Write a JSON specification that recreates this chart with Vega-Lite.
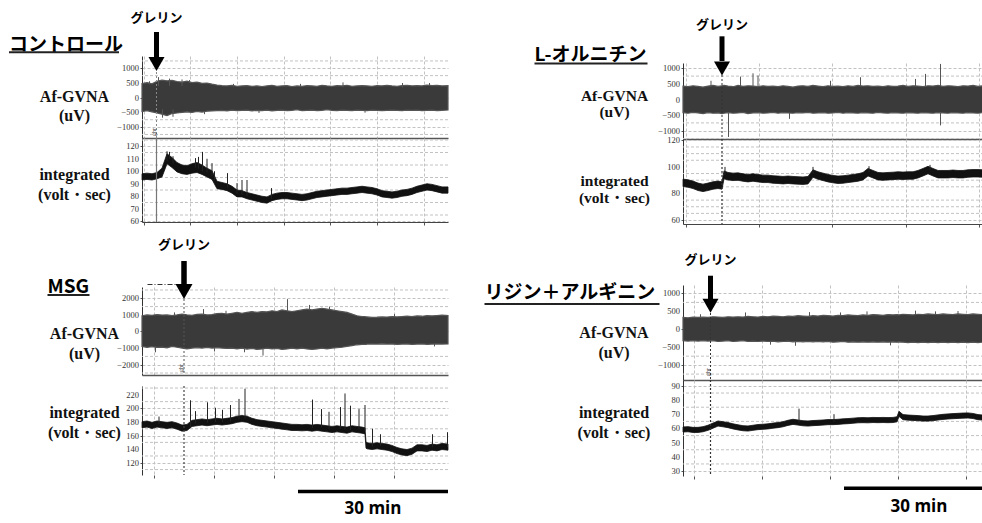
{
  "$schema": "https://vega.github.io/schema/vega-lite/v6.json",
  "background": "white",
  "autosize": {"type": "pad"},
  "padding": {"left": 8, "top": 12, "right": 0, "bottom": 12},
  "config": {
    "view": {"stroke": null},
    "axis": {"labelFont": "Liberation Sans Narrow", "labelFontSize": 8.5, "labelColor": "#333", "tickColor": "#555", "tickSize": 2, "labelPadding": 1, "domainColor": "#333", "gridColor": "#c2c2c2", "gridDash": [3, 2], "gridWidth": 1, "titleFont": "Liberation Serif", "titleFontSize": 16, "titleFontWeight": "bold", "titleColor": "#111"},
    "text": {"font": "Liberation Sans Narrow", "fontSize": 8.5, "color": "#333"}
  },
  "datasets": {
    "ctrl": [
      {"t":0,"raw_hi":480,"raw_lo":-470,"int_hi":98,"int_lo":93},
      {"t":1,"raw_hi":510,"raw_lo":-440,"int_hi":98.5,"int_lo":93.5},
      {"t":2,"raw_hi":470,"raw_lo":-480,"int_hi":98,"int_lo":93},
      {"t":3,"raw_hi":560,"raw_lo":-520,"int_hi":99,"int_lo":94},
      {"t":4,"raw_hi":600,"raw_lo":-560,"int_hi":102.5,"int_lo":95.5},
      {"t":5,"raw_hi":570,"raw_lo":-610,"int_hi":114,"int_lo":106},
      {"t":6,"raw_hi":590,"raw_lo":-540,"int_hi":111,"int_lo":103},
      {"t":7,"raw_hi":550,"raw_lo":-520,"int_hi":107,"int_lo":99.5},
      {"t":8,"raw_hi":530,"raw_lo":-500,"int_hi":105,"int_lo":98},
      {"t":9,"raw_hi":560,"raw_lo":-480,"int_hi":104.5,"int_lo":97.5},
      {"t":10,"raw_hi":510,"raw_lo":-500,"int_hi":106,"int_lo":98.5},
      {"t":11,"raw_hi":530,"raw_lo":-470,"int_hi":107,"int_lo":99},
      {"t":12,"raw_hi":490,"raw_lo":-490,"int_hi":105,"int_lo":97.5},
      {"t":13,"raw_hi":500,"raw_lo":-460,"int_hi":102.5,"int_lo":95.5},
      {"t":14,"raw_hi":460,"raw_lo":-450,"int_hi":100.5,"int_lo":93.5},
      {"t":15,"raw_hi":430,"raw_lo":-440,"int_hi":92,"int_lo":86},
      {"t":16,"raw_hi":410,"raw_lo":-430,"int_hi":91,"int_lo":85.5},
      {"t":17,"raw_hi":400,"raw_lo":-450,"int_hi":90,"int_lo":84.5},
      {"t":18,"raw_hi":420,"raw_lo":-420,"int_hi":88,"int_lo":82.5},
      {"t":19,"raw_hi":390,"raw_lo":-440,"int_hi":85,"int_lo":79.5},
      {"t":20,"raw_hi":400,"raw_lo":-430,"int_hi":84.5,"int_lo":79.5},
      {"t":21,"raw_hi":410,"raw_lo":-420,"int_hi":83,"int_lo":78},
      {"t":22,"raw_hi":390,"raw_lo":-450,"int_hi":82,"int_lo":77},
      {"t":23,"raw_hi":400,"raw_lo":-430,"int_hi":81,"int_lo":76},
      {"t":24,"raw_hi":380,"raw_lo":-440,"int_hi":80,"int_lo":75},
      {"t":25,"raw_hi":400,"raw_lo":-420,"int_hi":79.5,"int_lo":74.5},
      {"t":26,"raw_hi":420,"raw_lo":-450,"int_hi":81.5,"int_lo":76.5},
      {"t":27,"raw_hi":390,"raw_lo":-430,"int_hi":82.5,"int_lo":77.5},
      {"t":28,"raw_hi":400,"raw_lo":-420,"int_hi":83,"int_lo":78},
      {"t":29,"raw_hi":410,"raw_lo":-440,"int_hi":83,"int_lo":78},
      {"t":30,"raw_hi":380,"raw_lo":-430,"int_hi":82.5,"int_lo":77.5},
      {"t":31,"raw_hi":400,"raw_lo":-410,"int_hi":82,"int_lo":77},
      {"t":32,"raw_hi":390,"raw_lo":-440,"int_hi":81.5,"int_lo":76.5},
      {"t":33,"raw_hi":410,"raw_lo":-430,"int_hi":82,"int_lo":77},
      {"t":34,"raw_hi":400,"raw_lo":-420,"int_hi":83,"int_lo":78},
      {"t":35,"raw_hi":390,"raw_lo":-440,"int_hi":84,"int_lo":79},
      {"t":36,"raw_hi":420,"raw_lo":-430,"int_hi":84.5,"int_lo":79.5},
      {"t":37,"raw_hi":400,"raw_lo":-410,"int_hi":85,"int_lo":80},
      {"t":38,"raw_hi":390,"raw_lo":-430,"int_hi":85.5,"int_lo":80.5},
      {"t":39,"raw_hi":410,"raw_lo":-440,"int_hi":86,"int_lo":81},
      {"t":40,"raw_hi":400,"raw_lo":-420,"int_hi":86.5,"int_lo":81.5},
      {"t":41,"raw_hi":420,"raw_lo":-430,"int_hi":86.5,"int_lo":81.5},
      {"t":42,"raw_hi":390,"raw_lo":-440,"int_hi":87,"int_lo":82},
      {"t":43,"raw_hi":400,"raw_lo":-420,"int_hi":87.5,"int_lo":82.5},
      {"t":44,"raw_hi":410,"raw_lo":-430,"int_hi":88,"int_lo":83},
      {"t":45,"raw_hi":400,"raw_lo":-440,"int_hi":87.5,"int_lo":82.5},
      {"t":46,"raw_hi":390,"raw_lo":-420,"int_hi":87,"int_lo":82},
      {"t":47,"raw_hi":410,"raw_lo":-430,"int_hi":86,"int_lo":81},
      {"t":48,"raw_hi":400,"raw_lo":-440,"int_hi":84.5,"int_lo":79.5},
      {"t":49,"raw_hi":420,"raw_lo":-430,"int_hi":84,"int_lo":79},
      {"t":50,"raw_hi":400,"raw_lo":-420,"int_hi":83.5,"int_lo":78.5},
      {"t":51,"raw_hi":390,"raw_lo":-430,"int_hi":84,"int_lo":79},
      {"t":52,"raw_hi":410,"raw_lo":-440,"int_hi":85,"int_lo":80},
      {"t":53,"raw_hi":420,"raw_lo":-420,"int_hi":85.5,"int_lo":80.5},
      {"t":54,"raw_hi":400,"raw_lo":-430,"int_hi":86.5,"int_lo":81.5},
      {"t":55,"raw_hi":410,"raw_lo":-420,"int_hi":88,"int_lo":83},
      {"t":56,"raw_hi":400,"raw_lo":-440,"int_hi":89,"int_lo":84},
      {"t":57,"raw_hi":430,"raw_lo":-430,"int_hi":90,"int_lo":85},
      {"t":58,"raw_hi":410,"raw_lo":-420,"int_hi":89.5,"int_lo":84.5},
      {"t":59,"raw_hi":420,"raw_lo":-440,"int_hi":88.5,"int_lo":83.5},
      {"t":60,"raw_hi":400,"raw_lo":-430,"int_hi":87.5,"int_lo":82.5},
      {"t":61.2,"raw_hi":410,"raw_lo":-420,"int_hi":87.5,"int_lo":82.5}
    ],
    "ctrl_raw_spk": [
      {"t":1.5,"lo":450,"hi":560},{"t":3.3,"lo":400,"hi":700},{"t":4.1,"lo":-680,"hi":-400},{"t":5.5,"lo":400,"hi":650},{"t":6.2,"lo":-650,"hi":-400},{"t":8.0,"lo":400,"hi":620},{"t":9.5,"lo":500,"hi":600},{"t":12.5,"lo":-560,"hi":-460},{"t":18.3,"lo":380,"hi":470},{"t":23.4,"lo":-520,"hi":-420},{"t":31.7,"lo":380,"hi":470},{"t":40.2,"lo":350,"hi":520},{"t":44.6,"lo":-510,"hi":-420},{"t":52.1,"lo":350,"hi":500},{"t":57.5,"lo":400,"hi":500}
    ],
    "ctrl_int_spk": [
      {"t":5.0,"lo":108,"hi":116},{"t":5.5,"lo":110,"hi":115.5},{"t":6.2,"lo":106,"hi":112},{"t":10.7,"lo":103,"hi":110.5},{"t":11.3,"lo":102,"hi":111.5},{"t":12.1,"lo":100,"hi":115.5},{"t":13.0,"lo":99,"hi":110},{"t":14.0,"lo":96,"hi":106.5},{"t":14.5,"lo":93,"hi":100},{"t":17.1,"lo":87,"hi":98.5},{"t":19.0,"lo":82,"hi":90.5},{"t":20.0,"lo":81,"hi":93},{"t":21.0,"lo":80,"hi":93},{"t":25.9,"lo":78,"hi":86.5}
    ],
    "ctrl_info": [{"ghrelin": 2.9, "title": "コントロール", "label": "グレリン", "marker": "ghr"}],
    "g_ctrl_raw": [{"v":-1250},{"v":-750},{"v":-250},{"v":250},{"v":750},{"v":1250}],
    "g_ctrl_int": [{"v":65},{"v":75},{"v":85},{"v":95},{"v":105},{"v":115},{"v":125}],
    "l_ctrl_raw": [{"v":-1000},{"v":-500},{"v":0},{"v":500},{"v":1000}],
    "l_ctrl_int": [{"v":60},{"v":70},{"v":80},{"v":90},{"v":100},{"v":110},{"v":120}],
    "msg": [
      {"t":0,"raw_hi":950,"raw_lo":-900,"int_hi":180.5,"int_lo":171.5},
      {"t":1,"raw_hi":1000,"raw_lo":-950,"int_hi":181.5,"int_lo":172.5},
      {"t":2,"raw_hi":980,"raw_lo":-920,"int_hi":179.5,"int_lo":170.5},
      {"t":3,"raw_hi":1020,"raw_lo":-960,"int_hi":181.5,"int_lo":172.5},
      {"t":4,"raw_hi":990,"raw_lo":-940,"int_hi":180.5,"int_lo":171.5},
      {"t":5,"raw_hi":1000,"raw_lo":-980,"int_hi":179.5,"int_lo":170.5},
      {"t":6,"raw_hi":960,"raw_lo":-900,"int_hi":180.5,"int_lo":171.5},
      {"t":7,"raw_hi":1000,"raw_lo":-950,"int_hi":178.5,"int_lo":169.5},
      {"t":8,"raw_hi":1050,"raw_lo":-1000,"int_hi":175.5,"int_lo":166.5},
      {"t":9,"raw_hi":1000,"raw_lo":-1050,"int_hi":176.5,"int_lo":167.5},
      {"t":10,"raw_hi":980,"raw_lo":-1000,"int_hi":182.5,"int_lo":173.5},
      {"t":11,"raw_hi":1030,"raw_lo":-980,"int_hi":183.5,"int_lo":174.5},
      {"t":12,"raw_hi":1050,"raw_lo":-1000,"int_hi":184.5,"int_lo":175.5},
      {"t":13,"raw_hi":1000,"raw_lo":-960,"int_hi":183.5,"int_lo":174.5},
      {"t":14,"raw_hi":1020,"raw_lo":-1000,"int_hi":184.5,"int_lo":175.5},
      {"t":15,"raw_hi":1080,"raw_lo":-980,"int_hi":185.5,"int_lo":176.5},
      {"t":16,"raw_hi":1100,"raw_lo":-1000,"int_hi":184.5,"int_lo":175.5},
      {"t":17,"raw_hi":1050,"raw_lo":-1020,"int_hi":185.5,"int_lo":176.5},
      {"t":18,"raw_hi":1100,"raw_lo":-1000,"int_hi":186.5,"int_lo":177.5},
      {"t":19,"raw_hi":1150,"raw_lo":-1050,"int_hi":188.5,"int_lo":179.5},
      {"t":20,"raw_hi":1100,"raw_lo":-1000,"int_hi":189.5,"int_lo":180.5},
      {"t":21,"raw_hi":1150,"raw_lo":-1060,"int_hi":188.5,"int_lo":179.5},
      {"t":22,"raw_hi":1200,"raw_lo":-1020,"int_hi":185.5,"int_lo":176.5},
      {"t":23,"raw_hi":1150,"raw_lo":-1080,"int_hi":183.5,"int_lo":174.5},
      {"t":24,"raw_hi":1200,"raw_lo":-1050,"int_hi":182.5,"int_lo":173.5},
      {"t":25,"raw_hi":1180,"raw_lo":-1000,"int_hi":181.5,"int_lo":172.5},
      {"t":26,"raw_hi":1250,"raw_lo":-1050,"int_hi":180.5,"int_lo":171.5},
      {"t":27,"raw_hi":1200,"raw_lo":-1020,"int_hi":179.5,"int_lo":170.5},
      {"t":28,"raw_hi":1300,"raw_lo":-1080,"int_hi":178.5,"int_lo":169.5},
      {"t":29,"raw_hi":1250,"raw_lo":-1050,"int_hi":177.5,"int_lo":168.5},
      {"t":30,"raw_hi":1200,"raw_lo":-1000,"int_hi":176.5,"int_lo":167.5},
      {"t":31,"raw_hi":1250,"raw_lo":-1050,"int_hi":176.5,"int_lo":167.5},
      {"t":32,"raw_hi":1300,"raw_lo":-1000,"int_hi":176,"int_lo":167},
      {"t":33,"raw_hi":1350,"raw_lo":-1050,"int_hi":176.5,"int_lo":167.5},
      {"t":34,"raw_hi":1300,"raw_lo":-1080,"int_hi":175.5,"int_lo":166.5},
      {"t":35,"raw_hi":1350,"raw_lo":-1050,"int_hi":176.5,"int_lo":167.5},
      {"t":36,"raw_hi":1400,"raw_lo":-1000,"int_hi":175.5,"int_lo":166.5},
      {"t":37,"raw_hi":1350,"raw_lo":-1050,"int_hi":174.5,"int_lo":165.5},
      {"t":38,"raw_hi":1300,"raw_lo":-1000,"int_hi":173.5,"int_lo":164.5},
      {"t":39,"raw_hi":1250,"raw_lo":-980,"int_hi":174.5,"int_lo":165.5},
      {"t":40,"raw_hi":1200,"raw_lo":-950,"int_hi":173.5,"int_lo":164.5},
      {"t":41,"raw_hi":1150,"raw_lo":-900,"int_hi":172.5,"int_lo":163.5},
      {"t":42,"raw_hi":1050,"raw_lo":-850,"int_hi":174.5,"int_lo":165.5},
      {"t":43,"raw_hi":950,"raw_lo":-800,"int_hi":173.5,"int_lo":164.5},
      {"t":44,"raw_hi":900,"raw_lo":-780,"int_hi":172.5,"int_lo":163.5},
      {"t":44.6,"raw_hi":890,"raw_lo":-770,"int_hi":171.5,"int_lo":162.5},
      {"t":44.8,"raw_hi":880,"raw_lo":-770,"int_hi":150.5,"int_lo":141.5},
      {"t":45,"raw_hi":880,"raw_lo":-760,"int_hi":149.5,"int_lo":140.5},
      {"t":46,"raw_hi":850,"raw_lo":-750,"int_hi":148.5,"int_lo":139.5},
      {"t":47,"raw_hi":860,"raw_lo":-760,"int_hi":149.5,"int_lo":140.5},
      {"t":48,"raw_hi":880,"raw_lo":-740,"int_hi":148.5,"int_lo":139.5},
      {"t":49,"raw_hi":870,"raw_lo":-760,"int_hi":147.5,"int_lo":138.5},
      {"t":50,"raw_hi":900,"raw_lo":-750,"int_hi":145.5,"int_lo":136.5},
      {"t":51,"raw_hi":880,"raw_lo":-780,"int_hi":142.5,"int_lo":133.5},
      {"t":52,"raw_hi":900,"raw_lo":-760,"int_hi":140.5,"int_lo":131.5},
      {"t":53,"raw_hi":920,"raw_lo":-750,"int_hi":139.5,"int_lo":130.5},
      {"t":54,"raw_hi":900,"raw_lo":-780,"int_hi":141.5,"int_lo":132.5},
      {"t":55,"raw_hi":940,"raw_lo":-760,"int_hi":146.5,"int_lo":137.5},
      {"t":56,"raw_hi":920,"raw_lo":-750,"int_hi":146.5,"int_lo":137.5},
      {"t":57,"raw_hi":950,"raw_lo":-770,"int_hi":145.5,"int_lo":136.5},
      {"t":58,"raw_hi":940,"raw_lo":-760,"int_hi":147.5,"int_lo":138.5},
      {"t":59,"raw_hi":960,"raw_lo":-750,"int_hi":146.5,"int_lo":137.5},
      {"t":60,"raw_hi":980,"raw_lo":-760,"int_hi":148.5,"int_lo":139.5},
      {"t":61.2,"raw_hi":960,"raw_lo":-750,"int_hi":147.5,"int_lo":138.5}
    ],
    "msg_raw_spk": [
      {"t":2.7,"lo":-1250,"hi":-900},{"t":6.5,"lo":950,"hi":1150},{"t":12.3,"lo":1000,"hi":1350},{"t":14.5,"lo":-1200,"hi":-1000},{"t":16.8,"lo":1050,"hi":1250},{"t":20.5,"lo":-1250,"hi":-1000},{"t":24.2,"lo":-1450,"hi":-1000},{"t":29.1,"lo":1200,"hi":1950},{"t":33.5,"lo":1300,"hi":1600},{"t":37.5,"lo":1300,"hi":1500},{"t":50.5,"lo":880,"hi":1050},{"t":58.5,"lo":-900,"hi":-750}
    ],
    "msg_int_spk": [
      {"t":3.4,"lo":177,"hi":188},{"t":9.7,"lo":172,"hi":212},{"t":10.7,"lo":178,"hi":196},{"t":13.1,"lo":179,"hi":209},{"t":14.7,"lo":180,"hi":201},{"t":16.1,"lo":180,"hi":198},{"t":17.7,"lo":181,"hi":205},{"t":19.4,"lo":184,"hi":214},{"t":20.6,"lo":185,"hi":229},{"t":34.1,"lo":171,"hi":213},{"t":35.9,"lo":172,"hi":199},{"t":37.4,"lo":170,"hi":195},{"t":39.7,"lo":170,"hi":202},{"t":40.6,"lo":169,"hi":222},{"t":41.7,"lo":168,"hi":204},{"t":43.4,"lo":169,"hi":199},{"t":44.6,"lo":167,"hi":205},{"t":46.1,"lo":144,"hi":170},{"t":47.7,"lo":145,"hi":162},{"t":58.1,"lo":143,"hi":162},{"t":61.1,"lo":143,"hi":165}
    ],
    "msg_info": [{"ghrelin": 8.4, "title": "MSG", "label": "グレリン", "marker": "ghr"}],
    "g_msg_raw": [{"v":-2500},{"v":-1500},{"v":-500},{"v":500},{"v":1500},{"v":2500}],
    "g_msg_int": [{"v":110},{"v":130},{"v":150},{"v":170},{"v":190},{"v":210},{"v":230}],
    "l_msg_raw": [{"v":-2000},{"v":-1000},{"v":0},{"v":1000},{"v":2000}],
    "l_msg_int": [{"v":120},{"v":140},{"v":160},{"v":180},{"v":200},{"v":220}],
    "orn": [
      {"t":0,"raw_hi":430,"raw_lo":-420,"int_hi":90.8,"int_lo":85.2},
      {"t":1,"raw_hi":410,"raw_lo":-440,"int_hi":90.3,"int_lo":84.7},
      {"t":2,"raw_hi":440,"raw_lo":-410,"int_hi":89.3,"int_lo":83.7},
      {"t":3,"raw_hi":420,"raw_lo":-430,"int_hi":87.8,"int_lo":82.2},
      {"t":4,"raw_hi":400,"raw_lo":-450,"int_hi":87,"int_lo":81.4},
      {"t":5,"raw_hi":430,"raw_lo":-420,"int_hi":87.8,"int_lo":82.2},
      {"t":6,"raw_hi":450,"raw_lo":-440,"int_hi":88.8,"int_lo":83.2},
      {"t":7,"raw_hi":420,"raw_lo":-430,"int_hi":89.3,"int_lo":83.7},
      {"t":7.8,"raw_hi":440,"raw_lo":-450,"int_hi":88.8,"int_lo":83.2},
      {"t":8.2,"raw_hi":450,"raw_lo":-440,"int_hi":97,"int_lo":91},
      {"t":9,"raw_hi":430,"raw_lo":-420,"int_hi":95.8,"int_lo":90.2},
      {"t":10,"raw_hi":410,"raw_lo":-440,"int_hi":95.3,"int_lo":89.7},
      {"t":11,"raw_hi":450,"raw_lo":-430,"int_hi":95.5,"int_lo":89.9},
      {"t":12,"raw_hi":420,"raw_lo":-410,"int_hi":94.8,"int_lo":89.2},
      {"t":13,"raw_hi":440,"raw_lo":-450,"int_hi":94.3,"int_lo":88.7},
      {"t":14,"raw_hi":430,"raw_lo":-430,"int_hi":94.8,"int_lo":89.2},
      {"t":15,"raw_hi":410,"raw_lo":-420,"int_hi":94.3,"int_lo":88.7},
      {"t":16,"raw_hi":440,"raw_lo":-440,"int_hi":93.8,"int_lo":88.2},
      {"t":17,"raw_hi":420,"raw_lo":-430,"int_hi":93.8,"int_lo":88.2},
      {"t":18,"raw_hi":430,"raw_lo":-410,"int_hi":93.3,"int_lo":87.7},
      {"t":19,"raw_hi":410,"raw_lo":-440,"int_hi":93.1,"int_lo":87.5},
      {"t":20,"raw_hi":440,"raw_lo":-420,"int_hi":92.8,"int_lo":87.2},
      {"t":21,"raw_hi":420,"raw_lo":-430,"int_hi":93.1,"int_lo":87.5},
      {"t":22,"raw_hi":400,"raw_lo":-440,"int_hi":92.8,"int_lo":87.2},
      {"t":23,"raw_hi":430,"raw_lo":-420,"int_hi":92.6,"int_lo":87},
      {"t":24,"raw_hi":440,"raw_lo":-430,"int_hi":92.4,"int_lo":86.8},
      {"t":25,"raw_hi":420,"raw_lo":-410,"int_hi":92.8,"int_lo":87.2},
      {"t":26,"raw_hi":450,"raw_lo":-440,"int_hi":97.8,"int_lo":92.2},
      {"t":27,"raw_hi":430,"raw_lo":-430,"int_hi":96.3,"int_lo":90.7},
      {"t":28,"raw_hi":410,"raw_lo":-420,"int_hi":95.3,"int_lo":89.7},
      {"t":29,"raw_hi":440,"raw_lo":-440,"int_hi":94.3,"int_lo":88.7},
      {"t":30,"raw_hi":420,"raw_lo":-430,"int_hi":93.6,"int_lo":88},
      {"t":31,"raw_hi":430,"raw_lo":-410,"int_hi":93.1,"int_lo":87.5},
      {"t":32,"raw_hi":410,"raw_lo":-440,"int_hi":93.3,"int_lo":87.7},
      {"t":33,"raw_hi":440,"raw_lo":-420,"int_hi":93.8,"int_lo":88.2},
      {"t":34,"raw_hi":420,"raw_lo":-430,"int_hi":94.3,"int_lo":88.7},
      {"t":35,"raw_hi":450,"raw_lo":-440,"int_hi":94.8,"int_lo":89.2},
      {"t":36,"raw_hi":430,"raw_lo":-420,"int_hi":95.8,"int_lo":90.2},
      {"t":37,"raw_hi":440,"raw_lo":-430,"int_hi":98.8,"int_lo":93.2},
      {"t":38,"raw_hi":420,"raw_lo":-440,"int_hi":97.3,"int_lo":91.7},
      {"t":39,"raw_hi":430,"raw_lo":-410,"int_hi":95.8,"int_lo":90.2},
      {"t":40,"raw_hi":410,"raw_lo":-430,"int_hi":95.5,"int_lo":89.9},
      {"t":41,"raw_hi":440,"raw_lo":-440,"int_hi":95.8,"int_lo":90.2},
      {"t":42,"raw_hi":420,"raw_lo":-420,"int_hi":96,"int_lo":90.4},
      {"t":43,"raw_hi":430,"raw_lo":-430,"int_hi":96.3,"int_lo":90.7},
      {"t":44,"raw_hi":450,"raw_lo":-440,"int_hi":96.1,"int_lo":90.5},
      {"t":45,"raw_hi":420,"raw_lo":-420,"int_hi":96.3,"int_lo":90.7},
      {"t":46,"raw_hi":440,"raw_lo":-430,"int_hi":96.3,"int_lo":90.7},
      {"t":47,"raw_hi":430,"raw_lo":-440,"int_hi":97.3,"int_lo":91.7},
      {"t":48,"raw_hi":410,"raw_lo":-420,"int_hi":98.8,"int_lo":93.2},
      {"t":49,"raw_hi":440,"raw_lo":-430,"int_hi":100.4,"int_lo":94.8},
      {"t":50,"raw_hi":430,"raw_lo":-440,"int_hi":98.8,"int_lo":93.2},
      {"t":51,"raw_hi":450,"raw_lo":-420,"int_hi":97.3,"int_lo":91.7},
      {"t":52,"raw_hi":420,"raw_lo":-430,"int_hi":97.3,"int_lo":91.7},
      {"t":53,"raw_hi":440,"raw_lo":-440,"int_hi":97.3,"int_lo":91.7},
      {"t":54,"raw_hi":430,"raw_lo":-420,"int_hi":97.6,"int_lo":92},
      {"t":55,"raw_hi":410,"raw_lo":-430,"int_hi":97.3,"int_lo":91.7},
      {"t":56,"raw_hi":440,"raw_lo":-440,"int_hi":97.3,"int_lo":91.7},
      {"t":57,"raw_hi":430,"raw_lo":-420,"int_hi":97.8,"int_lo":92.2},
      {"t":58,"raw_hi":450,"raw_lo":-430,"int_hi":98,"int_lo":92.4},
      {"t":59,"raw_hi":420,"raw_lo":-440,"int_hi":98,"int_lo":92.4},
      {"t":60,"raw_hi":440,"raw_lo":-420,"int_hi":97.8,"int_lo":92.2},
      {"t":61.2,"raw_hi":430,"raw_lo":-430,"int_hi":97.8,"int_lo":92.2}
    ],
    "orn_raw_spk": [
      {"t":5.6,"lo":400,"hi":600},{"t":9.1,"lo":-1200,"hi":-420},{"t":11.5,"lo":420,"hi":735},{"t":14.0,"lo":420,"hi":840},{"t":15.0,"lo":420,"hi":770},{"t":21.3,"lo":-620,"hi":-420},{"t":29.5,"lo":420,"hi":600},{"t":35.5,"lo":420,"hi":714},{"t":46.5,"lo":420,"hi":660},{"t":48.5,"lo":420,"hi":820},{"t":51.5,"lo":430,"hi":1140},{"t":51.5,"lo":-830,"hi":-420}
    ],
    "orn_int_spk": [
      {"t":8.4,"lo":94,"hi":100},{"t":26.0,"lo":95,"hi":100},{"t":37.2,"lo":96,"hi":100.5},{"t":49.4,"lo":97.6,"hi":101.5}
    ],
    "orn_info": [{"ghrelin": 7.8, "title": "L-オルニチン", "label": "グレリン"}],
    "g_orn_raw": [{"v":-1250},{"v":-750},{"v":-250},{"v":250},{"v":750}],
    "g_orn_int": [{"v":65},{"v":70},{"v":75},{"v":85},{"v":90},{"v":95},{"v":105},{"v":110},{"v":115}],
    "l_orn_raw": [{"v":-1000},{"v":-500},{"v":0},{"v":500},{"v":1000}],
    "l_orn_int": [{"v":60},{"v":80},{"v":100},{"v":120}],
    "lys": [
      {"t":0,"raw_hi":330,"raw_lo":-320,"int_hi":61.1,"int_lo":57.5},
      {"t":1,"raw_hi":320,"raw_lo":-330,"int_hi":61.3,"int_lo":57.7},
      {"t":2,"raw_hi":340,"raw_lo":-320,"int_hi":60.8,"int_lo":57.2},
      {"t":3,"raw_hi":330,"raw_lo":-330,"int_hi":60.8,"int_lo":57.2},
      {"t":4,"raw_hi":340,"raw_lo":-320,"int_hi":61.3,"int_lo":57.7},
      {"t":5,"raw_hi":330,"raw_lo":-330,"int_hi":62.3,"int_lo":58.7},
      {"t":6,"raw_hi":350,"raw_lo":-320,"int_hi":63.8,"int_lo":60.2},
      {"t":7,"raw_hi":340,"raw_lo":-340,"int_hi":65.3,"int_lo":61.7},
      {"t":8,"raw_hi":330,"raw_lo":-330,"int_hi":64.8,"int_lo":61.2},
      {"t":9,"raw_hi":350,"raw_lo":-320,"int_hi":64.2,"int_lo":60.6},
      {"t":10,"raw_hi":340,"raw_lo":-340,"int_hi":63.3,"int_lo":59.7},
      {"t":11,"raw_hi":350,"raw_lo":-330,"int_hi":62.6,"int_lo":59},
      {"t":12,"raw_hi":340,"raw_lo":-320,"int_hi":62,"int_lo":58.4},
      {"t":13,"raw_hi":360,"raw_lo":-340,"int_hi":61.8,"int_lo":58.2},
      {"t":14,"raw_hi":350,"raw_lo":-330,"int_hi":62.3,"int_lo":58.7},
      {"t":15,"raw_hi":340,"raw_lo":-340,"int_hi":62.8,"int_lo":59.2},
      {"t":16,"raw_hi":360,"raw_lo":-330,"int_hi":63,"int_lo":59.4},
      {"t":17,"raw_hi":350,"raw_lo":-340,"int_hi":63.3,"int_lo":59.7},
      {"t":18,"raw_hi":370,"raw_lo":-330,"int_hi":63.8,"int_lo":60.2},
      {"t":19,"raw_hi":360,"raw_lo":-350,"int_hi":64.2,"int_lo":60.6},
      {"t":20,"raw_hi":350,"raw_lo":-340,"int_hi":64.8,"int_lo":61.2},
      {"t":21,"raw_hi":370,"raw_lo":-330,"int_hi":65.8,"int_lo":62.2},
      {"t":22,"raw_hi":360,"raw_lo":-350,"int_hi":66.5,"int_lo":62.9},
      {"t":23,"raw_hi":380,"raw_lo":-340,"int_hi":66,"int_lo":62.4},
      {"t":24,"raw_hi":370,"raw_lo":-350,"int_hi":65.5,"int_lo":61.9},
      {"t":25,"raw_hi":360,"raw_lo":-340,"int_hi":65.3,"int_lo":61.7},
      {"t":26,"raw_hi":380,"raw_lo":-350,"int_hi":65.6,"int_lo":62},
      {"t":27,"raw_hi":370,"raw_lo":-340,"int_hi":65.8,"int_lo":62.2},
      {"t":28,"raw_hi":390,"raw_lo":-350,"int_hi":66,"int_lo":62.4},
      {"t":29,"raw_hi":380,"raw_lo":-340,"int_hi":66.3,"int_lo":62.7},
      {"t":30,"raw_hi":370,"raw_lo":-360,"int_hi":66.3,"int_lo":62.7},
      {"t":31,"raw_hi":390,"raw_lo":-350,"int_hi":66.5,"int_lo":62.9},
      {"t":32,"raw_hi":380,"raw_lo":-340,"int_hi":66.8,"int_lo":63.2},
      {"t":33,"raw_hi":400,"raw_lo":-360,"int_hi":67,"int_lo":63.4},
      {"t":34,"raw_hi":390,"raw_lo":-350,"int_hi":67.3,"int_lo":63.7},
      {"t":35,"raw_hi":380,"raw_lo":-360,"int_hi":67.6,"int_lo":64},
      {"t":36,"raw_hi":400,"raw_lo":-350,"int_hi":67.7,"int_lo":64.1},
      {"t":37,"raw_hi":390,"raw_lo":-360,"int_hi":67.6,"int_lo":64},
      {"t":38,"raw_hi":410,"raw_lo":-350,"int_hi":67.8,"int_lo":64.2},
      {"t":39,"raw_hi":400,"raw_lo":-360,"int_hi":67.7,"int_lo":64.1},
      {"t":40,"raw_hi":390,"raw_lo":-350,"int_hi":67.8,"int_lo":64.2},
      {"t":41,"raw_hi":410,"raw_lo":-360,"int_hi":67.7,"int_lo":64.1},
      {"t":42,"raw_hi":400,"raw_lo":-350,"int_hi":67.8,"int_lo":64.2},
      {"t":42.8,"raw_hi":410,"raw_lo":-360,"int_hi":68.3,"int_lo":64.7},
      {"t":43.2,"raw_hi":400,"raw_lo":-350,"int_hi":72.1,"int_lo":68.5},
      {"t":44,"raw_hi":420,"raw_lo":-360,"int_hi":69.8,"int_lo":66.2},
      {"t":45,"raw_hi":410,"raw_lo":-370,"int_hi":69.5,"int_lo":65.9},
      {"t":46,"raw_hi":400,"raw_lo":-360,"int_hi":69.3,"int_lo":65.7},
      {"t":47,"raw_hi":420,"raw_lo":-370,"int_hi":69.1,"int_lo":65.5},
      {"t":48,"raw_hi":410,"raw_lo":-360,"int_hi":68.8,"int_lo":65.2},
      {"t":49,"raw_hi":430,"raw_lo":-370,"int_hi":68.8,"int_lo":65.2},
      {"t":50,"raw_hi":420,"raw_lo":-360,"int_hi":69.1,"int_lo":65.5},
      {"t":51,"raw_hi":410,"raw_lo":-370,"int_hi":69.6,"int_lo":66},
      {"t":52,"raw_hi":430,"raw_lo":-360,"int_hi":70,"int_lo":66.4},
      {"t":53,"raw_hi":420,"raw_lo":-370,"int_hi":70.3,"int_lo":66.7},
      {"t":54,"raw_hi":410,"raw_lo":-360,"int_hi":70.5,"int_lo":66.9},
      {"t":55,"raw_hi":430,"raw_lo":-370,"int_hi":70.7,"int_lo":67.1},
      {"t":56,"raw_hi":420,"raw_lo":-360,"int_hi":70.9,"int_lo":67.3},
      {"t":57,"raw_hi":410,"raw_lo":-370,"int_hi":71,"int_lo":67.4},
      {"t":58,"raw_hi":430,"raw_lo":-360,"int_hi":70.6,"int_lo":67},
      {"t":59,"raw_hi":420,"raw_lo":-370,"int_hi":69.8,"int_lo":66.2},
      {"t":60,"raw_hi":410,"raw_lo":-360,"int_hi":69.5,"int_lo":65.9},
      {"t":61.2,"raw_hi":420,"raw_lo":-370,"int_hi":69.6,"int_lo":66}
    ],
    "lys_raw_spk": [
      {"t":3.5,"lo":320,"hi":420},{"t":12.5,"lo":350,"hi":470},{"t":17.5,"lo":-430,"hi":-330},{"t":22.5,"lo":-460,"hi":-350},{"t":25.3,"lo":370,"hi":480},{"t":31.5,"lo":380,"hi":470},{"t":36.8,"lo":400,"hi":500},{"t":41.5,"lo":-450,"hi":-350},{"t":46.5,"lo":400,"hi":520},{"t":50.5,"lo":410,"hi":500},{"t":55.0,"lo":420,"hi":510}
    ],
    "lys_int_spk": [
      {"t":23.2,"lo":64.2,"hi":74},{"t":30.2,"lo":64.5,"hi":70.1}
    ],
    "lys_info": [{"ghrelin": 5.5, "title": "リジン＋アルギニン", "label": "グレリン", "marker": "ghr"}],
    "g_lys_raw": [{"v":-1250},{"v":-750},{"v":-250},{"v":250},{"v":750}],
    "g_lys_int": [{"v":35},{"v":45},{"v":55},{"v":65},{"v":75},{"v":85}],
    "l_lys_raw": [{"v":-1000},{"v":-500},{"v":0},{"v":500},{"v":1000}],
    "l_lys_int": [{"v":30},{"v":40},{"v":50},{"v":60},{"v":70},{"v":80},{"v":90}],
    "bar_left": [{"start": 31.2, "end": 61.2, "label": "30 min"}],
    "bar_right": [{"start": 32.2, "end": 62.2, "label": "30 min"}]
  },
  "hconcat": [
    {
      "vconcat": [
        {
          "width": 306, "height": 82,
          "layer": [
            {"data": {"name": "g_ctrl_raw"}, "mark": {"type": "rule", "color": "#c2c2c2", "strokeDash": [3, 2], "strokeWidth": 1, "clip": true},
             "encoding": {"y": {"field": "v", "type": "quantitative", "scale": {"domain": [-1371, 1418], "nice": false, "zero": false},
                     "axis": {"values": [-1000,-500,0,500,1000], "labels": false, "grid": true, "title": ["Af-GVNA", "(uV)"], "titleX": -68, "titleY": 40, "titleLineHeight": 19, "titleAngle": 0, "titleAlign": "center", "titleBaseline": "middle"}}}},
            {"data": {"name": "l_ctrl_raw"}, "mark": {"type": "text", "align": "right", "baseline": "middle", "clip": false},
             "encoding": {"x": {"datum": -0.6}, "y": {"field": "v", "type": "quantitative"}, "text": {"field": "v", "type": "quantitative", "format": "d"}}},
            {"data": {"name": "ctrl"}, "mark": {"type": "area", "color": "#3a3a3a", "stroke": "#555", "strokeWidth": 1.2},
             "encoding": {
               "x": {"field": "t", "type": "quantitative", "scale": {"domain": [0, 61.2], "nice": false, "zero": false},
                     "axis": {"values": [0.34,5.01,9.67,14.34,19.01,23.67,28.34,33.01,37.67,42.34,47.01,51.67,56.34,61.01], "labels": false, "ticks": false, "title": null, "grid": true, "domainColor": "#555", "domainWidth": 1.5}},
               "y": {"field": "raw_hi", "type": "quantitative"},
               "y2": {"field": "raw_lo"}}},
            {"data": {"name": "ctrl_raw_spk"}, "mark": {"type": "rule", "color": "#555", "strokeWidth": 1},
             "encoding": {"x": {"field": "t", "type": "quantitative"}, "y": {"field": "lo", "type": "quantitative"}, "y2": {"field": "hi"}}},
            {"data": {"name": "ctrl_info"}, "mark": {"type": "rule", "color": "#888", "strokeDash": [2, 2], "strokeWidth": 1},
             "encoding": {"x": {"field": "ghrelin", "type": "quantitative"}}},
            {"data": {"name": "ctrl_info"}, "mark": {"type": "rule", "color": "#000", "strokeWidth": 5, "clip": false},
             "encoding": {"x": {"field": "ghrelin", "type": "quantitative"}, "y": {"datum": 2234}, "y2": {"datum": 1367}}},
            {"data": {"name": "ctrl_info"}, "mark": {"type": "point", "shape": "M-1,-0.875L1,-0.875L0,0.875Z", "size": 256, "filled": true, "color": "#000", "opacity": 1, "clip": false},
             "encoding": {"x": {"field": "ghrelin", "type": "quantitative"}, "y": {"datum": 1146}}},
            {"data": {"name": "ctrl_info"}, "mark": {"type": "text", "font": "Noto Sans CJK JP", "fontSize": 13, "fontWeight": "bold", "align": "center", "baseline": "middle", "color": "#000", "clip": false},
             "encoding": {"x": {"field": "ghrelin", "type": "quantitative"}, "y": {"datum": 2710}, "text": {"field": "label"}}},
            {"data": {"name": "ctrl_info"}, "mark": {"type": "text", "font": "Noto Sans CJK JP", "fontSize": 19, "fontWeight": "bold", "align": "left", "baseline": "middle", "color": "#000", "clip": false},
             "encoding": {"x": {"datum": -26.6}, "y": {"datum": 1809}, "text": {"field": "title"}}},
            {"data": {"name": "ctrl_info"}, "mark": {"type": "rule", "color": "#222", "strokeWidth": 2, "clip": false},
             "encoding": {"x": {"datum": -26.6}, "x2": {"datum": -4.6}, "y": {"datum": 1544}}},
            {"data": {"name": "ctrl_info"}, "mark": {"type": "text", "fontSize": 6, "angle": 270, "align": "left", "baseline": "bottom", "color": "#333", "clip": false},
             "encoding": {"x": {"field": "ghrelin", "type": "quantitative"}, "y": {"datum": -1302}, "text": {"field": "marker"}}}
          ]
        },
        {
          "width": 306, "height": 84,
          "layer": [
            {"data": {"name": "g_ctrl_int"}, "mark": {"type": "rule", "color": "#c2c2c2", "strokeDash": [3, 2], "strokeWidth": 1, "clip": true},
             "encoding": {"y": {"field": "v", "type": "quantitative", "scale": {"domain": [59.4, 126.6], "nice": false, "zero": false},
                     "axis": {"values": [60,70,80,90,100,110,120], "labels": false, "grid": true, "title": ["integrated", "(volt・sec)"], "titleX": -68, "titleY": 36, "titleLineHeight": 20, "titleAngle": 0, "titleAlign": "center", "titleBaseline": "middle"}}}},
            {"data": {"name": "l_ctrl_int"}, "mark": {"type": "text", "align": "right", "baseline": "middle", "clip": false},
             "encoding": {"x": {"datum": -0.6}, "y": {"field": "v", "type": "quantitative"}, "text": {"field": "v", "type": "quantitative", "format": "d"}}},
            {"data": {"name": "ctrl"}, "mark": {"type": "area", "color": "#111", "stroke": "#111", "strokeWidth": 0.8},
             "encoding": {
               "x": {"field": "t", "type": "quantitative", "scale": {"domain": [0, 61.2], "nice": false, "zero": false},
                     "axis": {"values": [0.34,5.01,9.67,14.34,19.01,23.67,28.34,33.01,37.67,42.34,47.01,51.67,56.34,61.01], "labels": false, "ticks": true, "tickSize": 3, "title": null, "grid": true, "domainColor": "#444", "domainWidth": 1.2}},
               "y": {"field": "int_hi", "type": "quantitative"},
               "y2": {"field": "int_lo"}}},
            {"data": {"name": "ctrl_int_spk"}, "mark": {"type": "rule", "color": "#222", "strokeWidth": 1},
             "encoding": {"x": {"field": "t", "type": "quantitative"}, "y": {"field": "lo", "type": "quantitative"}, "y2": {"field": "hi"}}},
            {"data": {"name": "ctrl_info"}, "mark": {"type": "rule", "color": "#777", "strokeWidth": 1.2},
             "encoding": {"x": {"field": "ghrelin", "type": "quantitative"}}}
          ]
        },
        {"width": 306, "height": 65, "data": {"values": []}, "mark": "point"},
        {
          "width": 306, "height": 88,
          "layer": [
            {"data": {"name": "g_msg_raw"}, "mark": {"type": "rule", "color": "#c2c2c2", "strokeDash": [3, 2], "strokeWidth": 1, "clip": true},
             "encoding": {"y": {"field": "v", "type": "quantitative", "scale": {"domain": [-2620, 2680], "nice": false, "zero": false},
                     "axis": {"values": [-2000,-1000,0,1000,2000], "labels": false, "grid": true, "title": ["Af-GVNA", "(uV)"], "titleX": -58, "titleY": 46, "titleLineHeight": 20, "titleAngle": 0, "titleAlign": "center", "titleBaseline": "middle"}}}},
            {"data": {"name": "l_msg_raw"}, "mark": {"type": "text", "align": "right", "baseline": "middle", "clip": false},
             "encoding": {"x": {"datum": -0.6}, "y": {"field": "v", "type": "quantitative"}, "text": {"field": "v", "type": "quantitative", "format": "d"}}},
            {"data": {"name": "msg"}, "mark": {"type": "area", "color": "#3a3a3a", "stroke": "#555", "strokeWidth": 1.2},
             "encoding": {
               "x": {"field": "t", "type": "quantitative", "scale": {"domain": [0, 61.2], "nice": false, "zero": false},
                     "axis": {"values": [2.45,5.45,8.45,11.45,14.45,17.45,20.45,23.45,26.45,29.45,32.45,35.45,38.45,41.45,44.45,47.45,50.45,53.45,56.45,59.45], "labels": false, "ticks": false, "title": null, "grid": true, "domainColor": "#555", "domainWidth": 1.5}},
               "y": {"field": "raw_hi", "type": "quantitative"},
               "y2": {"field": "raw_lo"}}},
            {"data": {"name": "msg_raw_spk"}, "mark": {"type": "rule", "color": "#555", "strokeWidth": 1},
             "encoding": {"x": {"field": "t", "type": "quantitative"}, "y": {"field": "lo", "type": "quantitative"}, "y2": {"field": "hi"}}},
            {"data": {"name": "msg_info"}, "mark": {"type": "rule", "color": "#555", "strokeDash": [2, 2], "strokeWidth": 1},
             "encoding": {"x": {"field": "ghrelin", "type": "quantitative"}}},
            {"data": {"name": "msg_info"}, "mark": {"type": "rule", "color": "#333", "strokeDash": [5, 2, 1, 2], "strokeWidth": 1, "clip": false},
             "encoding": {"x": {"datum": 1.1}, "x2": {"datum": 7.4}, "y": {"datum": 2830}}},
            {"data": {"name": "msg_info"}, "mark": {"type": "rule", "color": "#000", "strokeWidth": 5.5, "clip": false},
             "encoding": {"x": {"field": "ghrelin", "type": "quantitative"}, "y": {"datum": 4246}, "y2": {"datum": 2800}}},
            {"data": {"name": "msg_info"}, "mark": {"type": "point", "shape": "M-1,-0.875L1,-0.875L0,0.875Z", "size": 289, "filled": true, "color": "#000", "opacity": 1, "clip": false},
             "encoding": {"x": {"field": "ghrelin", "type": "quantitative"}, "y": {"datum": 2409}}},
            {"data": {"name": "msg_info"}, "mark": {"type": "text", "font": "Noto Sans CJK JP", "fontSize": 13, "fontWeight": "bold", "align": "center", "baseline": "middle", "color": "#000", "clip": false},
             "encoding": {"x": {"field": "ghrelin", "type": "quantitative"}, "y": {"datum": 5210}, "text": {"field": "label"}}},
            {"data": {"name": "msg_info"}, "mark": {"type": "text", "font": "Noto Sans CJK JP", "fontSize": 19, "fontWeight": "bold", "align": "left", "baseline": "middle", "color": "#000", "clip": false},
             "encoding": {"x": {"datum": -18.9}, "y": {"datum": 2710}, "text": {"field": "title"}}},
            {"data": {"name": "msg_info"}, "mark": {"type": "rule", "color": "#222", "strokeWidth": 2, "clip": false},
             "encoding": {"x": {"datum": -18.9}, "x2": {"datum": -10.5}, "y": {"datum": 2198}}},
            {"data": {"name": "msg_info"}, "mark": {"type": "text", "fontSize": 6, "angle": 270, "align": "left", "baseline": "bottom", "color": "#333", "clip": false},
             "encoding": {"x": {"field": "ghrelin", "type": "quantitative"}, "y": {"datum": -2437}, "text": {"field": "marker"}}}
          ]
        },
        {"width": 306, "height": 11, "data": {"values": []}, "mark": "point"},
        {
          "width": 306, "height": 89,
          "layer": [
            {"data": {"name": "g_msg_int"}, "mark": {"type": "rule", "color": "#c2c2c2", "strokeDash": [3, 2], "strokeWidth": 1, "clip": true},
             "encoding": {"y": {"field": "v", "type": "quantitative", "scale": {"domain": [102, 233], "nice": false, "zero": false},
                     "axis": {"values": [120,140,160,180,200,220], "labels": false, "grid": true, "title": ["integrated", "(volt・sec)"], "titleX": -58, "titleY": 26, "titleLineHeight": 20, "titleAngle": 0, "titleAlign": "center", "titleBaseline": "middle"}}}},
            {"data": {"name": "l_msg_int"}, "mark": {"type": "text", "align": "right", "baseline": "middle", "clip": false},
             "encoding": {"x": {"datum": -0.6}, "y": {"field": "v", "type": "quantitative"}, "text": {"field": "v", "type": "quantitative", "format": "d"}}},
            {"data": {"name": "msg"}, "mark": {"type": "area", "color": "#111", "stroke": "#111", "strokeWidth": 0.8},
             "encoding": {
               "x": {"field": "t", "type": "quantitative", "scale": {"domain": [0, 61.2], "nice": false, "zero": false},
                     "axis": {"values": [2.45,5.45,8.45,11.45,14.45,17.45,20.45,23.45,26.45,29.45,32.45,35.45,38.45,41.45,44.45,47.45,50.45,53.45,56.45,59.45], "labels": false, "ticks": true, "tickSize": 3, "title": null, "grid": true, "domain": false}},
               "y": {"field": "int_hi", "type": "quantitative"},
               "y2": {"field": "int_lo"}}},
            {"data": {"name": "msg_int_spk"}, "mark": {"type": "rule", "color": "#222", "strokeWidth": 1},
             "encoding": {"x": {"field": "t", "type": "quantitative"}, "y": {"field": "lo", "type": "quantitative"}, "y2": {"field": "hi"}}},
            {"data": {"name": "msg_info"}, "mark": {"type": "rule", "color": "#444", "strokeDash": [2, 2], "strokeWidth": 1.2},
             "encoding": {"x": {"field": "ghrelin", "type": "quantitative"}}},
            {"data": {"name": "bar_left"}, "mark": {"type": "rule", "color": "#000", "strokeWidth": 3.5, "clip": false},
             "encoding": {"x": {"field": "start", "type": "quantitative"}, "x2": {"field": "end"}, "y": {"datum": 77.7}}},
            {"data": {"name": "bar_left"}, "mark": {"type": "text", "font": "Open Sans", "fontSize": 17, "fontWeight": "bold", "align": "center", "baseline": "middle", "color": "#000", "clip": false},
             "encoding": {"x": {"datum": 46.2}, "y": {"datum": 52}, "text": {"field": "label"}}}
          ]
        }
      ],
      "spacing": 0, "bounds": "flush"
    },
    {
      "vconcat": [
        {"width": 306, "height": 7, "data": {"values": []}, "mark": "point"},
        {
          "width": 306, "height": 76,
          "layer": [
            {"data": {"name": "g_orn_raw"}, "mark": {"type": "rule", "color": "#c2c2c2", "strokeDash": [3, 2], "strokeWidth": 1, "clip": true},
             "encoding": {"y": {"field": "v", "type": "quantitative", "scale": {"domain": [-1266, 1170], "nice": false, "zero": false},
                     "axis": {"values": [-1000,-500,0,500,1000], "labels": false, "grid": true, "title": ["Af-GVNA", "(uV)"], "titleX": -69, "titleY": 32, "titleLineHeight": 16, "titleFontSize": 15.5, "titleAngle": 0, "titleAlign": "center", "titleBaseline": "middle"}}}},
            {"data": {"name": "l_orn_raw"}, "mark": {"type": "text", "align": "right", "baseline": "middle", "clip": false},
             "encoding": {"x": {"datum": -0.6}, "y": {"field": "v", "type": "quantitative"}, "text": {"field": "v", "type": "quantitative", "format": "d"}}},
            {"data": {"name": "orn"}, "mark": {"type": "area", "color": "#3a3a3a", "stroke": "#555", "strokeWidth": 1.2},
             "encoding": {
               "x": {"field": "t", "type": "quantitative", "scale": {"domain": [0, 61.2], "nice": false, "zero": false},
                     "axis": {"values": [0.53,4.2,7.87,11.53,15.2,18.87,22.53,26.2,29.87,33.53,37.2,40.87,44.53,48.2,51.87,55.53,59.2], "labels": false, "ticks": false, "title": null, "grid": true, "domainColor": "#555", "domainWidth": 1.5}},
               "y": {"field": "raw_hi", "type": "quantitative"},
               "y2": {"field": "raw_lo"}}},
            {"data": {"name": "orn_raw_spk"}, "mark": {"type": "rule", "color": "#555", "strokeWidth": 1},
             "encoding": {"x": {"field": "t", "type": "quantitative"}, "y": {"field": "lo", "type": "quantitative"}, "y2": {"field": "hi"}}},
            {"data": {"name": "orn_info"}, "mark": {"type": "rule", "color": "#333", "strokeDash": [2, 2], "strokeWidth": 1},
             "encoding": {"x": {"field": "ghrelin", "type": "quantitative"}}},
            {"data": {"name": "orn_info"}, "mark": {"type": "rule", "color": "#000", "strokeWidth": 5, "clip": false},
             "encoding": {"x": {"field": "ghrelin", "type": "quantitative"}, "y": {"datum": 2025}, "y2": {"datum": 1234}}},
            {"data": {"name": "orn_info"}, "mark": {"type": "point", "shape": "M-1,-0.875L1,-0.875L0,0.875Z", "size": 256, "filled": true, "color": "#000", "opacity": 1, "clip": false},
             "encoding": {"x": {"field": "ghrelin", "type": "quantitative"}, "y": {"datum": 994}}},
            {"data": {"name": "orn_info"}, "mark": {"type": "text", "font": "Noto Sans CJK JP", "fontSize": 13, "fontWeight": "bold", "align": "center", "baseline": "middle", "color": "#000", "clip": false},
             "encoding": {"x": {"field": "ghrelin", "type": "quantitative"}, "y": {"datum": 2386}, "text": {"field": "label"}}},
            {"data": {"name": "orn_info"}, "mark": {"type": "text", "font": "Noto Sans CJK JP", "fontSize": 19, "fontWeight": "bold", "align": "left", "baseline": "middle", "color": "#000", "clip": false},
             "encoding": {"x": {"datum": -29.7}, "y": {"datum": 1426}, "text": {"field": "title"}}},
            {"data": {"name": "orn_info"}, "mark": {"type": "rule", "color": "#222", "strokeWidth": 2, "clip": false},
             "encoding": {"x": {"datum": -29.7}, "x2": {"datum": -7.1}, "y": {"datum": 1154}}}
          ]
        },
        {
          "width": 306, "height": 85,
          "layer": [
            {"data": {"name": "g_orn_int"}, "mark": {"type": "rule", "color": "#c2c2c2", "strokeDash": [3, 2], "strokeWidth": 1, "clip": true},
             "encoding": {"y": {"field": "v", "type": "quantitative", "scale": {"domain": [57, 121], "nice": false, "zero": false},
                     "axis": {"values": [60,80,100,120], "labels": false, "grid": true, "title": ["integrated", "(volt・sec)"], "titleX": -69, "titleY": 41, "titleLineHeight": 17, "titleFontSize": 15.5, "titleAngle": 0, "titleAlign": "center", "titleBaseline": "middle"}}}},
            {"data": {"name": "l_orn_int"}, "mark": {"type": "text", "align": "right", "baseline": "middle", "clip": false},
             "encoding": {"x": {"datum": -0.6}, "y": {"field": "v", "type": "quantitative"}, "text": {"field": "v", "type": "quantitative", "format": "d"}}},
            {"data": {"name": "orn"}, "mark": {"type": "area", "color": "#111", "stroke": "#111", "strokeWidth": 0.8},
             "encoding": {
               "x": {"field": "t", "type": "quantitative", "scale": {"domain": [0, 61.2], "nice": false, "zero": false},
                     "axis": {"values": [0.53,4.2,7.87,11.53,15.2,18.87,22.53,26.2,29.87,33.53,37.2,40.87,44.53,48.2,51.87,55.53,59.2], "labels": false, "ticks": true, "tickSize": 3, "title": null, "grid": true, "domainColor": "#444", "domainWidth": 1.2}},
               "y": {"field": "int_hi", "type": "quantitative"},
               "y2": {"field": "int_lo"}}},
            {"data": {"name": "orn_int_spk"}, "mark": {"type": "rule", "color": "#222", "strokeWidth": 1},
             "encoding": {"x": {"field": "t", "type": "quantitative"}, "y": {"field": "lo", "type": "quantitative"}, "y2": {"field": "hi"}}},
            {"data": {"name": "orn_info"}, "mark": {"type": "rule", "color": "#333", "strokeDash": [2, 2], "strokeWidth": 1.2},
             "encoding": {"x": {"field": "ghrelin", "type": "quantitative"}}}
          ]
        },
        {"width": 306, "height": 61, "data": {"values": []}, "mark": "point"},
        {
          "width": 306, "height": 95,
          "layer": [
            {"data": {"name": "g_lys_raw"}, "mark": {"type": "rule", "color": "#c2c2c2", "strokeDash": [3, 2], "strokeWidth": 1, "clip": true},
             "encoding": {"y": {"field": "v", "type": "quantitative", "scale": {"domain": [-1415, 1236], "nice": false, "zero": false},
                     "axis": {"values": [-1000,-500,0,500,1000], "labels": false, "grid": true, "title": ["Af-GVNA", "(uV)"], "titleX": -69.5, "titleY": 47, "titleLineHeight": 20, "titleAngle": 0, "titleAlign": "center", "titleBaseline": "middle"}}}},
            {"data": {"name": "l_lys_raw"}, "mark": {"type": "text", "align": "right", "baseline": "middle", "clip": false},
             "encoding": {"x": {"datum": -0.6}, "y": {"field": "v", "type": "quantitative"}, "text": {"field": "v", "type": "quantitative", "format": "d"}}},
            {"data": {"name": "lys"}, "mark": {"type": "area", "color": "#3a3a3a", "stroke": "#555", "strokeWidth": 1.2},
             "encoding": {
               "x": {"field": "t", "type": "quantitative", "scale": {"domain": [0, 61.2], "nice": false, "zero": false},
                     "axis": {"values": [2.14,5.54,8.94,12.34,15.74,19.14,22.54,25.94,29.34,32.74,36.14,39.54,42.94,46.34,49.74,53.14,56.54,59.94], "labels": false, "ticks": false, "title": null, "grid": true, "domainColor": "#555", "domainWidth": 1.5}},
               "y": {"field": "raw_hi", "type": "quantitative"},
               "y2": {"field": "raw_lo"}}},
            {"data": {"name": "lys_raw_spk"}, "mark": {"type": "rule", "color": "#555", "strokeWidth": 1},
             "encoding": {"x": {"field": "t", "type": "quantitative"}, "y": {"field": "lo", "type": "quantitative"}, "y2": {"field": "hi"}}},
            {"data": {"name": "lys_info"}, "mark": {"type": "rule", "color": "#333", "strokeDash": [2, 2], "strokeWidth": 1},
             "encoding": {"x": {"field": "ghrelin", "type": "quantitative"}}},
            {"data": {"name": "lys_info"}, "mark": {"type": "rule", "color": "#000", "strokeWidth": 5, "clip": false},
             "encoding": {"x": {"field": "ghrelin", "type": "quantitative"}, "y": {"datum": 1495}, "y2": {"datum": 845}}},
            {"data": {"name": "lys_info"}, "mark": {"type": "point", "shape": "M-1,-0.875L1,-0.875L0,0.875Z", "size": 256, "filled": true, "color": "#000", "opacity": 1, "clip": false},
             "encoding": {"x": {"field": "ghrelin", "type": "quantitative"}, "y": {"datum": 658}}},
            {"data": {"name": "lys_info"}, "mark": {"type": "text", "font": "Noto Sans CJK JP", "fontSize": 13, "fontWeight": "bold", "align": "center", "baseline": "middle", "color": "#000", "clip": false},
             "encoding": {"x": {"field": "ghrelin", "type": "quantitative"}, "y": {"datum": 1934}, "text": {"field": "label"}}},
            {"data": {"name": "lys_info"}, "mark": {"type": "text", "font": "Noto Sans CJK JP", "fontSize": 19, "fontWeight": "bold", "align": "left", "baseline": "middle", "color": "#000", "clip": false},
             "encoding": {"x": {"datum": -39.7}, "y": {"datum": 1013}, "text": {"field": "title"}}},
            {"data": {"name": "lys_info"}, "mark": {"type": "rule", "color": "#222", "strokeWidth": 2, "clip": false},
             "encoding": {"x": {"datum": -39.7}, "x2": {"datum": -4.7}, "y": {"datum": 706}}},
            {"data": {"name": "lys_info"}, "mark": {"type": "text", "fontSize": 6, "angle": 270, "align": "left", "baseline": "bottom", "color": "#333", "clip": false},
             "encoding": {"x": {"field": "ghrelin", "type": "quantitative"}, "y": {"datum": -1303}, "text": {"field": "marker"}}}
          ]
        },
        {
          "width": 306, "height": 96,
          "layer": [
            {"data": {"name": "g_lys_int"}, "mark": {"type": "rule", "color": "#c2c2c2", "strokeDash": [3, 2], "strokeWidth": 1, "clip": true},
             "encoding": {"y": {"field": "v", "type": "quantitative", "scale": {"domain": [26.5, 94.2], "nice": false, "zero": false},
                     "axis": {"values": [30,40,50,60,70,80,90], "labels": false, "grid": true, "title": ["integrated", "(volt・sec)"], "titleX": -69.5, "titleY": 32, "titleLineHeight": 20, "titleAngle": 0, "titleAlign": "center", "titleBaseline": "middle"}}}},
            {"data": {"name": "l_lys_int"}, "mark": {"type": "text", "align": "right", "baseline": "middle", "clip": false},
             "encoding": {"x": {"datum": -0.6}, "y": {"field": "v", "type": "quantitative"}, "text": {"field": "v", "type": "quantitative", "format": "d"}}},
            {"data": {"name": "lys"}, "mark": {"type": "area", "color": "#111", "stroke": "#111", "strokeWidth": 0.8},
             "encoding": {
               "x": {"field": "t", "type": "quantitative", "scale": {"domain": [0, 61.2], "nice": false, "zero": false},
                     "axis": {"values": [2.14,5.54,8.94,12.34,15.74,19.14,22.54,25.94,29.34,32.74,36.14,39.54,42.94,46.34,49.74,53.14,56.54,59.94], "labels": false, "ticks": true, "tickSize": 3, "title": null, "grid": true, "domain": false}},
               "y": {"field": "int_hi", "type": "quantitative"},
               "y2": {"field": "int_lo"}}},
            {"data": {"name": "lys_int_spk"}, "mark": {"type": "rule", "color": "#222", "strokeWidth": 1},
             "encoding": {"x": {"field": "t", "type": "quantitative"}, "y": {"field": "lo", "type": "quantitative"}, "y2": {"field": "hi"}}},
            {"data": {"name": "lys_info"}, "mark": {"type": "rule", "color": "#333", "strokeDash": [2, 2], "strokeWidth": 1.2},
             "encoding": {"x": {"field": "ghrelin", "type": "quantitative"}}},
            {"data": {"name": "bar_right"}, "mark": {"type": "rule", "color": "#000", "strokeWidth": 3.5, "clip": false},
             "encoding": {"x": {"field": "start", "type": "quantitative"}, "x2": {"field": "end"}, "y": {"datum": 17.8}}},
            {"data": {"name": "bar_right"}, "mark": {"type": "text", "font": "Open Sans", "fontSize": 17, "fontWeight": "bold", "align": "center", "baseline": "middle", "color": "#000", "clip": false},
             "encoding": {"x": {"datum": 47.2}, "y": {"datum": 4.5}, "text": {"field": "label"}}}
          ]
        }
      ],
      "spacing": 0, "bounds": "flush"
    }
  ],
  "spacing": 541,
  "bounds": "flush"
}
